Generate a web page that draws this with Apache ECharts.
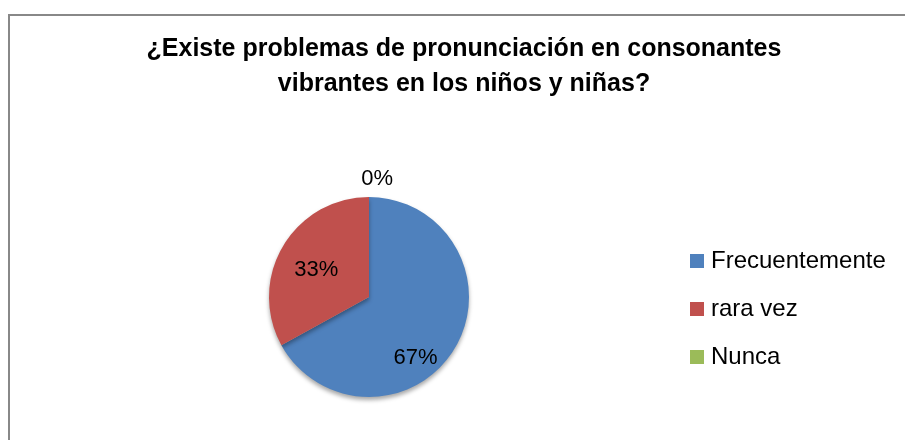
<!DOCTYPE html>
<html>
<head>
<meta charset="utf-8">
<script src="https://cdn.jsdelivr.net/npm/echarts@6/dist/echarts.min.js"></script>
<style>
  html, body { margin: 0; padding: 0; background: #fff; }
  #main { width: 905px; height: 440px; }
</style>
</head>
<body>
<div id="main"></div>
<script>
const categories = ["Frecuentemente", "rara vez", "Nunca"];
const values = [67, 33, 0];
const colors = ["#4F81BD", "#C0504D", "#9BBB59"];
const titleText = "¿Existe problemas de pronunciación en consonantes\nvibrantes en los niños y niñas?";

const font = "'Liberation Sans', sans-serif";

const chart = echarts.init(document.getElementById("main"));

// label placement tweaks per slice (Excel puts them a bit off-centre)
const labelOffsets = [[1, 34], [-7, 0], [29, -14]];

const option = {
  animation: false,
  graphic: [
    {
      type: "rect",
      shape: { x: 9, y: 15, width: 1000, height: 1000 },
      style: { fill: "none", stroke: "#888", lineWidth: 2 },
    },
  ],
  title: {
    text: titleText,
    left: 459,
    textAlign: "center",
    top: 27,
    textStyle: {
      fontFamily: font,
      fontSize: 25,
      fontWeight: "bold",
      color: "#000",
      lineHeight: 35,
    },
  },
  legend: {
    orient: "vertical",
    left: 690,
    top: 249,
    padding: 0,
    icon: "rect",
    itemWidth: 14,
    itemHeight: 14,
    itemGap: 24,
    textStyle: {
      fontFamily: font,
      fontSize: 24,
      lineHeight: 24,
      color: "#000",
      padding: [0, 0, 0, 2],
    },
    data: categories,
  },
  series: [
    {
      type: "pie",
      center: [369, 297],
      radius: [0, 100],
      startAngle: 90,
      clockwise: true,
      minShowLabelAngle: 0,
      itemStyle: {
        shadowBlur: 4,
        shadowOffsetY: 3,
        shadowColor: "rgba(0,0,0,0.35)",
      },
      data: categories.map((name, i) => ({
        name: name,
        value: values[i],
        itemStyle: { color: colors[i] },
        label: {
          position: values[i] === 0 ? "outside" : "inner",
          offset: labelOffsets[i],
        },
        labelLine:
          values[i] === 0
            ? { show: false, length: 4, length2: 0 }
            : { show: false },
      })),
      label: {
        formatter: (p) => Math.round(p.percent) + "%",
        fontFamily: font,
        fontSize: 22,
        color: "#000",
      },
    },
  ],
};

chart.setOption(option);
</script>
</body>
</html>
